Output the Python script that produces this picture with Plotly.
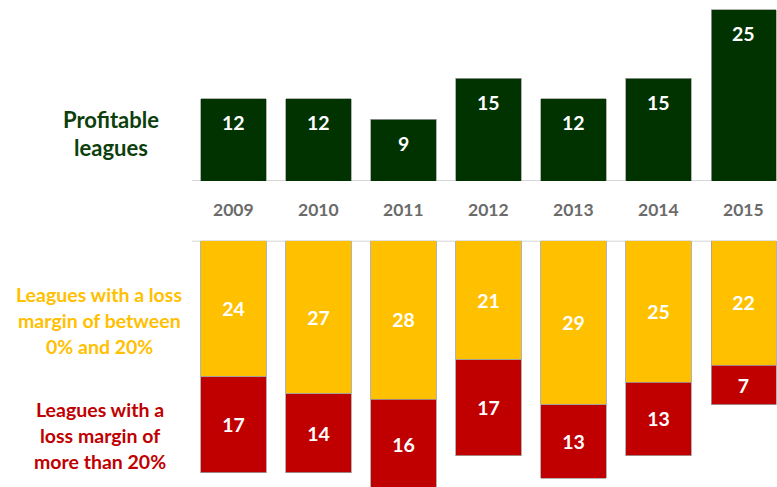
import plotly.graph_objects as go

years = ["2009", "2010", "2011", "2012", "2013", "2014", "2015"]
profitable = [12, 12, 9, 15, 12, 15, 25]
loss_0_20 = [24, 27, 28, 21, 29, 25, 22]
loss_over_20 = [17, 14, 16, 17, 13, 13, 7]

GREEN = "#013300"
YELLOW = "#FFC000"
RED = "#C00000"
FONT = "Lato"
H = 487
W = 777

fig = go.Figure()
bw = 0.765
line = dict(color="#a0a0a0", width=0.8)
fig.add_trace(go.Bar(x=years, y=profitable, marker=dict(color=GREEN, line=line), width=bw,
                     xaxis="x", yaxis="y", cliponaxis=False, hoverinfo="skip"))
fig.add_trace(go.Bar(x=years, y=loss_0_20, marker=dict(color=YELLOW, line=line), width=bw,
                     text=loss_0_20, textposition="inside", insidetextanchor="middle",
                     textfont=dict(color="white", size=19.5, family=FONT),
                     texttemplate="<b>%{text}</b>", xaxis="x2", yaxis="y2", hoverinfo="skip"))
fig.add_trace(go.Bar(x=years, y=loss_over_20, marker=dict(color=RED, line=line), width=bw,
                     text=loss_over_20, textposition="inside", insidetextanchor="middle",
                     textfont=dict(color="white", size=19.5, family=FONT),
                     texttemplate="<b>%{text}</b>", xaxis="x2", yaxis="y2", hoverinfo="skip"))

xr = [-2.747, 6.394]
top_base = 181.0
top_ppu = 6.86
bot_top = 240.7
bot_ppu = 5.66

fig.update_layout(
    width=W, height=H, margin=dict(l=0, r=0, t=0, b=0),
    paper_bgcolor="white", plot_bgcolor="white", showlegend=False,
    barmode="stack", bargap=0,
    uniformtext=dict(mode="show", minsize=10),
    xaxis=dict(type="category", range=xr, domain=[0, 1], anchor="y", visible=False),
    xaxis2=dict(type="category", range=xr, domain=[0, 1], anchor="y2", visible=False),
    yaxis=dict(range=[0, top_base / top_ppu], domain=[(H - top_base) / H, 1], visible=False),
    yaxis2=dict(range=[(H - bot_top) / bot_ppu, 0], domain=[0, (H - bot_top) / H], visible=False),
    font=dict(family=FONT),
)

# baseline lines
for xref, yref in (("x", "y"), ("x2", "y2")):
    fig.add_shape(type="line", xref=xref, yref=yref,
                  x0=-0.49, x1=xr[1], y0=0, y1=0,
                  line=dict(color="#c8c8c8", width=1.5), layer="below")

# value labels on profitable bars (near bar top)
for i, v in enumerate(profitable):
    fig.add_annotation(x=i, xref="x", y=v, yref="y", text=f"<b>{v}</b>", showarrow=False,
                       yshift=-24, xanchor="center", yanchor="middle",
                       font=dict(size=19.5, color="white", family=FONT))

# year labels
for i, yr in enumerate(years):
    fig.add_annotation(x=i, xref="x", y=(H - 210) / H, yref="paper", text=f"<b>{yr}</b>",
                       showarrow=False, font=dict(size=17.5, color="#6b6b6b", family=FONT),
                       xanchor="center", yanchor="middle")

def side_label(lines, ys, xc, color, size):
    for t, yy in zip(lines, ys):
        fig.add_annotation(x=xc / W, xref="paper", y=(H - yy) / H, yref="paper",
                           text=f"<b>{t}</b>", showarrow=False, xanchor="center", yanchor="middle",
                           font=dict(size=size, color=color, family=FONT))

side_label(["Profitable", "leagues"], [119, 147], 111, "#0c3f0c", 22)
side_label(["Leagues with a loss", "margin of between", "0% and 20%"], [294, 320, 346], 99, YELLOW, 19.5)
side_label(["Leagues with a", "loss margin of", "more than 20%"], [409, 435, 461], 100, RED, 19.5)

fig.write_html("out.html", config={"displayModeBar": False, "staticPlot": True},
               post_script="document.body.style.margin='0';document.body.style.padding='0';document.body.style.overflow='hidden';")
